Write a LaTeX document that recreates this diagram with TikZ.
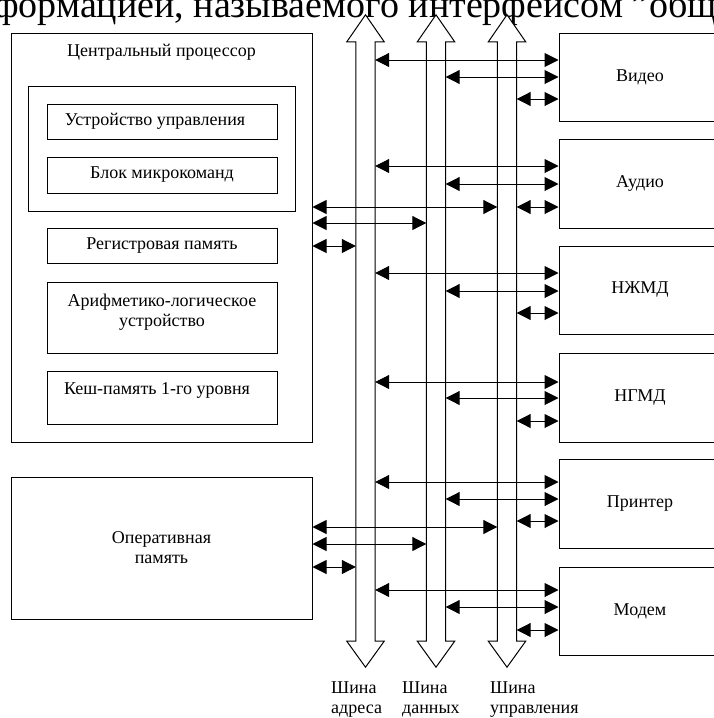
\documentclass[tikz,border=0pt]{standalone}
\usepackage{fontspec}
\setmainfont{Liberation Serif}
\usetikzlibrary{arrows.meta}
\begin{document}
\begin{tikzpicture}[x=1pt,y=-1pt,
  box/.style={draw, line width=1pt, inner sep=0pt, font=\fontsize{18}{20}\selectfont, align=center},
  lbl/.style={inner sep=0pt, font=\fontsize{18}{20}\selectfont, align=center},
  biarr/.style={line width=1pt, arrows={Triangle[length=14pt,width=14pt]-Triangle[length=14pt,width=14pt]}},
  bus/.style={inner sep=0pt, minimum width=19pt, minimum height=599pt},
  busline/.style={draw, line width=1pt, fill=white, line join=miter}]
\useasboundingbox (0,0) rectangle (713,718);

% cut-off line of text at the top
\node[inner sep=0pt, anchor=base west, font=\fontsize{38}{40}\selectfont] (top) at (-6,17) {формацией, называемого интерфейсом "общей шины"};

% CPU
\node[box, minimum width=301pt, minimum height=409pt] (cpu) at (161.5,237.5) {};
\node[lbl] (cput) at (161.5,52) {Центральный процессор};
\node[box, minimum width=267pt, minimum height=125pt] (grp) at (161.5,148.5) {};
\node[box, minimum width=230pt, minimum height=35pt] (uu) at (162,121.5) {};
\node[lbl] (uut) at (155,121.5) {Устройство управления};
\node[box, minimum width=230pt, minimum height=36pt] (bm) at (162,175) {Блок микрокоманд};
\node[box, minimum width=230pt, minimum height=35pt] (rp) at (162,245.5) {Регистровая память};
\node[box, minimum width=230pt, minimum height=71pt] (alu) at (162,317.5) {};
\node[lbl] (alut) at (162,312) {Арифметико-логическое\\устройство};
\node[box, minimum width=230pt, minimum height=53pt] (cache) at (162,397.5) {};
\node[lbl] (cachet) at (157,390) {Кеш-память 1-го уровня};

% RAM
\node[box, minimum width=301pt, minimum height=142pt] (ram) at (161.5,548) {Оперативная\\память};

% devices
\node[box, minimum width=162pt, minimum height=88pt] (video) at (640,77) {Видео};
\node[box, minimum width=162pt, minimum height=89pt] (audio) at (640,183.5) {Аудио};
\node[box, minimum width=162pt, minimum height=88pt] (hdd) at (640,290) {НЖМД};
\node[box, minimum width=162pt, minimum height=89pt] (fdd) at (640,397.5) {НГМД};
\node[box, minimum width=162pt, minimum height=89pt] (prn) at (640,503.5) {Принтер};
\node[box, minimum width=162pt, minimum height=88pt] (modem) at (640,611) {Модем};

% buses
\foreach \n/\x in {busA/365.5, busB/436, busC/507}{
  \node[bus] (\n) at (\x,341.5) {};
  \draw[busline] (\n.north west) -- ++(-9,0) -- ([yshift=27pt]\n.north) -- ([xshift=9pt]\n.north east) -- (\n.north east)
     -- (\n.south east) -- ++(9,0) -- ([yshift=-26pt]\n.south) -- ([xshift=-9pt]\n.south west) -- (\n.south west) -- cycle;
}

% device connections
\foreach \d/\ya/\yb/\yc in {video/60/77/99, audio/166/184/207, hdd/273/291/313, fdd/382/398/421, prn/482/499/521, modem/590/607/630}{
  \draw[biarr] (busA.east |- 0,\ya) -- (\d.west |- 0,\ya);
  \draw[biarr] (busB.east |- 0,\yb) -- (\d.west |- 0,\yb);
  \draw[biarr] (busC.east |- 0,\yc) -- (\d.west |- 0,\yc);
}
% CPU and RAM connections
\foreach \s/\ya/\yb/\yc in {cpu/207/223/246, ram/527/544/567}{
  \draw[biarr] (\s.east |- 0,\ya) -- (busC.west |- 0,\ya);
  \draw[biarr] (\s.east |- 0,\yb) -- (busB.west |- 0,\yb);
  \draw[biarr] (\s.east |- 0,\yc) -- (busA.west |- 0,\yc);
}

% bus labels
\node[lbl, anchor=base west] (la1) at (331,693) {Шина};
\node[lbl, anchor=base west] (la2) at (331,713) {адреса};
\node[lbl, anchor=base west] (lb1) at (402,693) {Шина};
\node[lbl, anchor=base west] (lb2) at (402,713) {данных};
\node[lbl, anchor=base west] (lc1) at (490,693) {Шина};
\node[lbl, anchor=base west] (lc2) at (490,713) {управления};
\end{tikzpicture}
\end{document}
